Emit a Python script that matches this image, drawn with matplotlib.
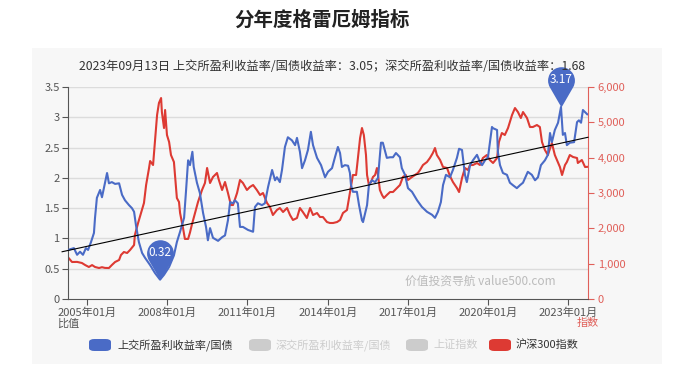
import matplotlib

matplotlib.use("Agg")
import matplotlib.pyplot as plt
from matplotlib.patches import FancyBboxPatch, Rectangle
from matplotlib.path import Path
from matplotlib.ticker import FuncFormatter

plt.rcParams["font.family"] = ["Noto Sans CJK SC", "DejaVu Sans"]

#### Data

TITLE = "分年度格雷厄姆指标"
SUBTITLE = (
    "2023年09月13日 上交所盈利收益率/国债收益率：3.05；"
    "深交所盈利收益率/国债收益率：1.68"
)

# time as decimal year
BLUE_T = [
    2004.29, 2004.51, 2004.63, 2004.74, 2004.85, 2004.96, 2005.04, 2005.15,
    2005.26, 2005.30, 2005.37, 2005.49, 2005.56, 2005.67, 2005.75, 2005.82,
    2005.93, 2006.05, 2006.20, 2006.31, 2006.42, 2006.57, 2006.68, 2006.76,
    2006.83, 2006.94, 2007.06, 2007.17, 2007.36, 2007.54, 2007.73, 2007.88,
    2008.07, 2008.25, 2008.36, 2008.48, 2008.63, 2008.70, 2008.78, 2008.85,
    2008.94, 2008.99, 2009.11, 2009.22, 2009.34, 2009.45, 2009.52, 2009.60,
    2009.71, 2009.90, 2010.05, 2010.16, 2010.27, 2010.35, 2010.46, 2010.53,
    2010.64, 2010.72, 2010.83, 2011.02, 2011.21, 2011.28, 2011.39, 2011.54,
    2011.65, 2011.77, 2011.92, 2012.03, 2012.10, 2012.21, 2012.29, 2012.40,
    2012.51, 2012.66, 2012.78, 2012.85, 2012.96, 2013.04, 2013.15, 2013.26,
    2013.37, 2013.45, 2013.60, 2013.75, 2013.90, 2014.01, 2014.16, 2014.27,
    2014.38, 2014.46, 2014.53, 2014.64, 2014.76, 2014.83, 2014.87, 2014.94,
    2015.09, 2015.17, 2015.28, 2015.32, 2015.47, 2015.54, 2015.65, 2015.77,
    2015.88, 2015.99, 2016.06, 2016.21, 2016.33, 2016.44, 2016.55, 2016.70,
    2016.77, 2016.89, 2017.00, 2017.15, 2017.34, 2017.52, 2017.71, 2017.90,
    2018.01, 2018.12, 2018.23, 2018.31, 2018.42, 2018.57, 2018.68, 2018.83,
    2018.91, 2019.02, 2019.13, 2019.20, 2019.32, 2019.43, 2019.58, 2019.69,
    2019.77, 2019.88, 2019.99, 2020.14, 2020.18, 2020.33, 2020.36, 2020.44,
    2020.55, 2020.70, 2020.81, 2020.92, 2021.07, 2021.19, 2021.30, 2021.48,
    2021.63, 2021.75, 2021.86, 2021.97, 2022.12, 2022.23, 2022.31, 2022.38,
    2022.49, 2022.61, 2022.72, 2022.79, 2022.87, 2022.94, 2023.05, 2023.21,
    2023.32, 2023.39, 2023.47, 2023.54, 2023.70,
]
BLUE_V = [
    0.81, 0.84, 0.73, 0.78, 0.73, 0.84, 0.81, 0.94,
    1.09, 1.34, 1.67, 1.80, 1.68, 1.91, 2.08, 1.91,
    1.93, 1.90, 1.91, 1.72, 1.63, 1.55, 1.50, 1.44,
    1.22, 0.94, 0.76, 0.68, 0.56, 0.43, 0.32, 0.40,
    0.53, 0.72, 0.94, 1.11, 1.34, 1.77, 2.29, 2.21,
    2.43, 2.18, 1.92, 1.75, 1.42, 1.19, 0.97, 1.17,
    1.01, 0.96, 1.02, 1.05, 1.30, 1.60, 1.58, 1.63,
    1.58, 1.19, 1.19, 1.14, 1.11, 1.52, 1.58, 1.55,
    1.58, 1.85, 2.13, 1.96, 2.01, 1.93, 2.13, 2.51,
    2.67, 2.62, 2.54, 2.66, 2.43, 2.16, 2.29, 2.46,
    2.76, 2.54, 2.33, 2.21, 2.01, 2.10, 2.16, 2.34,
    2.51, 2.41, 2.18, 2.21, 2.20, 2.08, 1.88, 1.77,
    1.77, 1.55, 1.30, 1.27, 1.55, 1.88, 1.96, 1.93,
    2.00, 2.58, 2.58, 2.33, 2.34, 2.34, 2.41, 2.34,
    2.16, 2.05, 1.83, 1.77, 1.63, 1.52, 1.44, 1.39,
    1.34, 1.44, 1.60, 1.88, 2.05, 2.01, 2.13, 2.33,
    2.48, 2.46, 2.05, 1.93, 2.21, 2.29, 2.38, 2.26,
    2.21, 2.29, 2.34, 2.84, 2.82, 2.79, 2.43, 2.21,
    2.08, 2.05, 1.92, 1.88, 1.83, 1.88, 1.92, 2.10,
    2.05, 1.96, 2.01, 2.21, 2.29, 2.38, 2.74, 2.59,
    2.79, 2.91, 3.17, 2.71, 2.74, 2.54, 2.58, 2.59,
    2.92, 2.95, 2.91, 3.12, 3.05,
]

RED_T = [
    2004.29, 2004.44, 2004.63, 2004.81, 2004.93, 2005.07, 2005.19, 2005.30,
    2005.45, 2005.56, 2005.67, 2005.82, 2005.93, 2006.05, 2006.20, 2006.27,
    2006.38, 2006.50, 2006.61, 2006.76, 2006.79, 2006.91, 2007.02, 2007.13,
    2007.21, 2007.32, 2007.36, 2007.47, 2007.54, 2007.62, 2007.69, 2007.77,
    2007.80, 2007.88, 2007.92, 2007.99, 2008.07, 2008.14, 2008.25, 2008.29,
    2008.36, 2008.44, 2008.48, 2008.59, 2008.66, 2008.78, 2008.85, 2008.92,
    2009.04, 2009.15, 2009.30, 2009.41, 2009.49, 2009.60, 2009.71, 2009.86,
    2009.93, 2010.05, 2010.16, 2010.27, 2010.38, 2010.46, 2010.61, 2010.72,
    2010.83, 2010.98, 2011.09, 2011.21, 2011.35, 2011.47, 2011.58, 2011.73,
    2011.84, 2011.95, 2012.10, 2012.21, 2012.33, 2012.48, 2012.59, 2012.70,
    2012.85, 2012.96, 2013.07, 2013.22, 2013.34, 2013.45, 2013.60, 2013.71,
    2013.82, 2013.97, 2014.08, 2014.20, 2014.35, 2014.46, 2014.57, 2014.72,
    2014.83, 2014.91, 2014.94, 2015.06, 2015.13, 2015.21, 2015.28, 2015.35,
    2015.43, 2015.47, 2015.54, 2015.62, 2015.69, 2015.77, 2015.84, 2015.88,
    2015.95, 2016.03, 2016.10, 2016.21, 2016.33, 2016.44, 2016.59, 2016.70,
    2016.81, 2016.92, 2017.00, 2017.15, 2017.26, 2017.37, 2017.45, 2017.56,
    2017.71, 2017.82, 2017.93, 2018.01, 2018.08, 2018.20, 2018.31, 2018.46,
    2018.57, 2018.68, 2018.83, 2018.91, 2019.02, 2019.13, 2019.24, 2019.32,
    2019.43, 2019.58, 2019.69, 2019.80, 2019.95, 2020.06, 2020.18, 2020.33,
    2020.40, 2020.51, 2020.62, 2020.74, 2020.89, 2021.00, 2021.11, 2021.22,
    2021.30, 2021.45, 2021.56, 2021.67, 2021.82, 2021.93, 2022.01, 2022.12,
    2022.23, 2022.38, 2022.49, 2022.57, 2022.68, 2022.76, 2022.87, 2022.94,
    2023.05, 2023.17, 2023.32, 2023.35, 2023.50, 2023.62, 2023.70,
]
RED_V = [
    1180, 1047, 1050, 1019, 962, 906, 960, 906,
    877, 900, 880, 877, 962, 1047, 1104, 1245,
    1330, 1302, 1387, 1528, 1811, 2151, 2434, 2717,
    3226, 3707, 3905, 3792, 4443, 5207, 5547, 5688,
    5292, 4839, 5349, 4641, 4443, 4075, 3877, 3509,
    2858, 2745, 2434, 2009, 1700, 1700, 1880, 2100,
    2434, 2745, 3085, 3283, 3707, 3283, 3453, 3566,
    3368, 3085, 3311, 3000, 2660, 2660, 3000, 3368,
    3283, 3085, 3170, 3226, 3085, 2943, 3000, 2717,
    2604, 2377, 2519, 2575, 2462, 2575, 2377, 2236,
    2292, 2575, 2462, 2292, 2575, 2377, 2434, 2321,
    2321, 2179, 2151, 2151, 2179, 2236, 2434, 2519,
    3000, 3368, 3509, 3509, 3990, 4556, 4839, 4641,
    4075, 3509, 3226, 3311, 3453, 3509, 3707, 3509,
    3085, 2943, 2858, 2943, 3028, 3028, 3141, 3226,
    3453, 3509, 3368, 3453, 3509, 3566, 3651, 3792,
    3877, 3990, 4132, 4273, 4075, 3934, 3736, 3707,
    3480, 3311, 3141, 3028, 3424, 3707, 3651, 3792,
    3792, 3849, 3792, 3990, 4075, 3934, 3849, 3990,
    4443, 4698, 4641, 4839, 5207, 5405, 5292, 5122,
    5292, 5122, 4868, 4868, 4924, 4868, 4443, 4216,
    4075, 4415, 4075, 3934, 3736, 3509, 3792, 3877,
    4075, 4019, 3990, 3849, 3934, 3736, 3740,
]

TREND_T = [2004.07, 2023.73]
TREND_V = [0.78, 2.67]

X_TICKS = [2005, 2008, 2011, 2014, 2017, 2020, 2023]
X_LABELS = [f"{y}年01月" for y in X_TICKS]
LEFT_TICKS = [0, 0.5, 1, 1.5, 2, 2.5, 3, 3.5]
RIGHT_TICKS = [0, 1000, 2000, 3000, 4000, 5000, 6000]

LEGEND_LABELS = ["上交所盈利收益率/国债", "深交所盈利收益率/国债", "上证指数", "沪深300指数"]

#### Styles

BLUE = "#4a6bc6"
RED = "#dd3a33"
RED_AXIS = "#e0605a"
GREY_TXT = "#555555"
PANEL = "#f7f7f7"
W, H = 679, 378


def fx(px):
    """Pixel x to figure fraction."""
    return px / W


def fy(py):
    """Pixel y (from top) to figure fraction."""
    return 1 - py / H


def pin_path():
    """Tear-drop marker with its tip at the origin."""
    arc = Path.arc(-30, 210)
    verts = [(0.0, 0.0)] + [(vx, vy + 2.0) for vx, vy in arc.vertices] + [(0.0, 0.0)]
    codes = [Path.MOVETO, Path.LINETO] + list(arc.codes[1:]) + [Path.CLOSEPOLY]
    return Path(verts, codes)


fig = plt.figure(figsize=(W / 100, H / 100), dpi=100, facecolor="white")
fig.patches.append(
    Rectangle((fx(32), fy(364)), fx(630), 316 / H, transform=fig.transFigure,
              facecolor=PANEL, edgecolor="none", zorder=-10)
)

ax = fig.add_axes([fx(68), fy(299), fx(520), 212 / H])
ax2 = ax.twinx()
ax.set_zorder(ax2.get_zorder() + 1)
ax.patch.set_visible(False)
ax2.patch.set_visible(False)

# grid (left axis values) drawn under the red line
for v in LEFT_TICKS[1:]:
    ax2.axhline(v * 6000 / 3.5, color="#dcdcdc", lw=1, zorder=0)

ax2.plot(RED_T, RED_V, color=RED, lw=1.5, zorder=2)
ax.plot(BLUE_T, BLUE_V, color=BLUE, lw=1.5, zorder=3)
ax.plot(TREND_T, TREND_V, color="black", lw=0.8, zorder=4, clip_on=False)

# min / max pins
pin = pin_path()
i_min = BLUE_V.index(min(BLUE_V))
i_max = BLUE_V.index(max(BLUE_V))
for i in (i_min, i_max):
    ax.plot(BLUE_T[i], BLUE_V[i], marker=pin, markersize=58, color=BLUE,
            markeredgewidth=0, zorder=6, clip_on=False)
    ax.annotate(f"{BLUE_V[i]:.2f}", (BLUE_T[i], BLUE_V[i]), xytext=(0, 19.5),
                textcoords="offset points", ha="center", va="center",
                color="white", fontsize=8.5, zorder=7, annotation_clip=False)

ax.set_xlim(2004.29, 2023.73)
ax.set_ylim(0, 3.5)
ax2.set_ylim(0, 6000)

ax.set_xticks(X_TICKS)
ax.set_xticklabels(X_LABELS)
ax.set_yticks(LEFT_TICKS)
ax.yaxis.set_major_formatter(FuncFormatter(lambda v, _: f"{v:g}"))
ax2.set_yticks(RIGHT_TICKS)
ax2.yaxis.set_major_formatter(FuncFormatter(lambda v, _: f"{int(v):,}"))

for a in (ax, ax2):
    for side in ("top", "right", "left", "bottom"):
        a.spines[side].set_visible(False)
ax.spines["left"].set_visible(True)
ax.spines["bottom"].set_visible(True)
ax.spines["left"].set_color(GREY_TXT)
ax.spines["bottom"].set_color(GREY_TXT)
ax2.spines["right"].set_visible(True)
ax2.spines["right"].set_color(RED_AXIS)

ax.tick_params(axis="both", colors=GREY_TXT, labelsize=8, length=4, pad=2)
ax2.tick_params(axis="y", colors=RED_AXIS, labelsize=8, length=4, pad=3)

ax.text(0, -0.09, "比值", transform=ax.transAxes, ha="center", va="top",
        fontsize=8, color=GREY_TXT)
ax2.text(1, -0.09, "指数", transform=ax2.transAxes, ha="center", va="top",
         fontsize=8, color=RED_AXIS)
ax.text(0.937, 0.085, "价值投资导航 value500.com", transform=ax.transAxes,
        ha="right", va="center", fontsize=8.5, color="#bbbbbb", zorder=1)

fig.text(fx(322), fy(20), TITLE, ha="center", va="center", fontsize=14,
         fontweight="bold", color="#222222")
fig.text(fx(332), fy(67), SUBTITLE, ha="center", va="center", fontsize=8.8,
         color="#333333")

# legend
legend_items = [
    (89, 117, BLUE, "#333333"),
    (249, 276, "#cccccc", "#cccccc"),
    (406, 433, "#cccccc", "#cccccc"),
    (489, 516, RED, "#333333"),
]
for (rx, tx, fc, tc), label in zip(legend_items, LEGEND_LABELS):
    fig.patches.append(
        FancyBboxPatch((fx(rx), fy(351)), fx(22), 12 / H,
                       boxstyle="round,pad=0,rounding_size=0.008",
                       transform=fig.transFigure, facecolor=fc,
                       edgecolor="none", zorder=2)
    )
    fig.text(fx(tx), fy(345), label, ha="left", va="center", fontsize=8,
             color=tc)

fig.savefig("out.png", dpi=100, facecolor="white")
